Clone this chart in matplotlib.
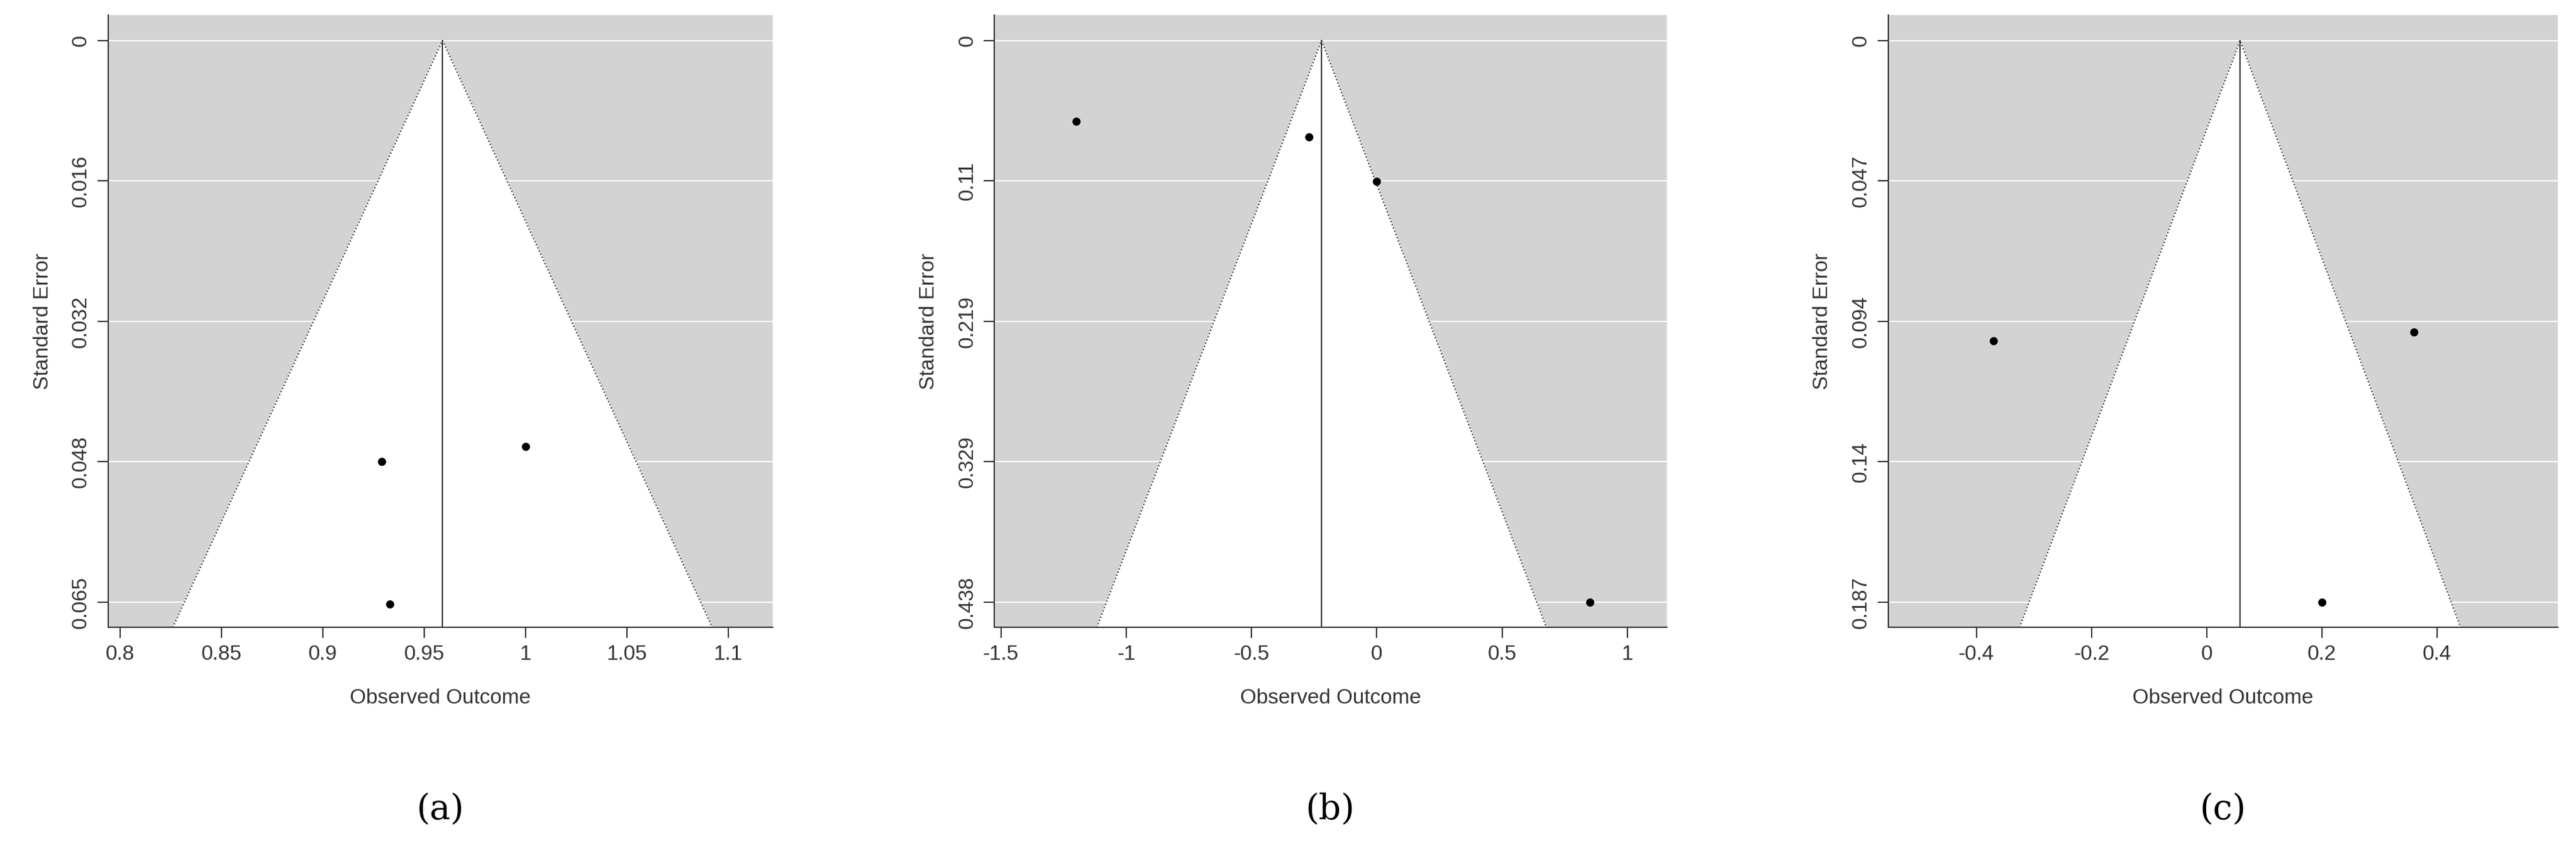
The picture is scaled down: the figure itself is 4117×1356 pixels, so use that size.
import numpy as np
import matplotlib.pyplot as plt

# panel data: estimates, standard errors, pooled estimate, SE ticks
a_x = [0.929, 1.0, 0.933]
a_se = [0.0487, 0.0470, 0.0652]
a_center = 0.959
a_ticks = ['0', '0.016', '0.032', '0.048', '0.065']
a_xticks = [0.8, 0.85, 0.9, 0.95, 1, 1.05, 1.1]
a_xlim = (0.794, 1.122)

b_x = [-1.2, -0.27, 0.0, 0.85]
b_se = [0.063, 0.075, 0.11, 0.438]
b_center = -0.22
b_ticks = ['0', '0.11', '0.219', '0.329', '0.438']
b_xticks = [-1.5, -1, -0.5, 0, 0.5, 1]
b_xlim = (-1.526, 1.157)

c_x = [-0.37, 0.36, 0.2]
c_se = [0.1, 0.097, 0.187]
c_center = 0.058
c_ticks = ['0', '0.047', '0.094', '0.14', '0.187']
c_xticks = [-0.4, -0.2, 0, 0.2, 0.4]
c_xlim = (-0.553, 0.61)

panels = [
    (a_x, a_se, a_center, a_ticks, a_xticks, a_xlim, '(a)', 0.042, 0.300),
    (b_x, b_se, b_center, b_ticks, b_xticks, b_xlim, '(b)', 0.386, 0.647),
    (c_x, c_se, c_center, c_ticks, c_xticks, c_xlim, '(c)', 0.733, 0.993),
]

fig = plt.figure(figsize=(41.17, 13.56), dpi=100)
fig.patch.set_facecolor('white')
plt.rcParams['font.family'] = ['Liberation Sans', 'DejaVu Sans']

for xs, ses, cen, tl, xt, xl, cap, left, right in panels:
    ax = fig.add_axes([left, 0.26, right - left, 0.722])
    semax = float(tl[-1])
    step = semax / 4
    pad = 0.045 * semax
    ylo, yhi = -pad, semax + pad
    ax.set_facecolor('#d3d3d3')
    ax.fill([cen - 1.96 * yhi, cen, cen + 1.96 * yhi], [yhi, 0, yhi],
            color='white', zorder=1)
    ax.plot([cen - 1.96 * yhi, cen, cen + 1.96 * yhi], [yhi, 0, yhi],
            ls=':', color='#333333', lw=1.5, zorder=2)
    yt = [i * step for i in range(5)]
    for y in yt:
        ax.axhline(y, color='white', lw=1.5, zorder=0.5)
    ax.plot([cen, cen], [0, yhi], color='#333333', lw=1.5, zorder=3)
    ax.scatter(xs, ses, s=70, color='black', zorder=4)
    ax.set_xlim(xl)
    ax.set_ylim(yhi, ylo)
    ax.set_yticks(yt)
    ax.set_yticklabels(tl, rotation=90, va='center')
    ax.set_xticks(xt)
    ax.set_xticklabels([('%g' % v) for v in xt])
    for s in ['top', 'right']:
        ax.spines[s].set_visible(False)
    for s in ['left', 'bottom']:
        ax.spines[s].set_color('#333333')
        ax.spines[s].set_linewidth(1.5)
    ax.tick_params(labelsize=24, length=12, width=1.5, colors='#333333', pad=8)
    ax.set_xlabel('Observed Outcome', fontsize=24, color='#333333', labelpad=28)
    ax.set_ylabel('Standard Error', fontsize=24, color='#333333', labelpad=22)
    fig.text((left + right) / 2, 0.045, cap, fontsize=40, ha='center',
             va='center', family='DejaVu Serif')

fig.savefig('out.png', dpi=100)
